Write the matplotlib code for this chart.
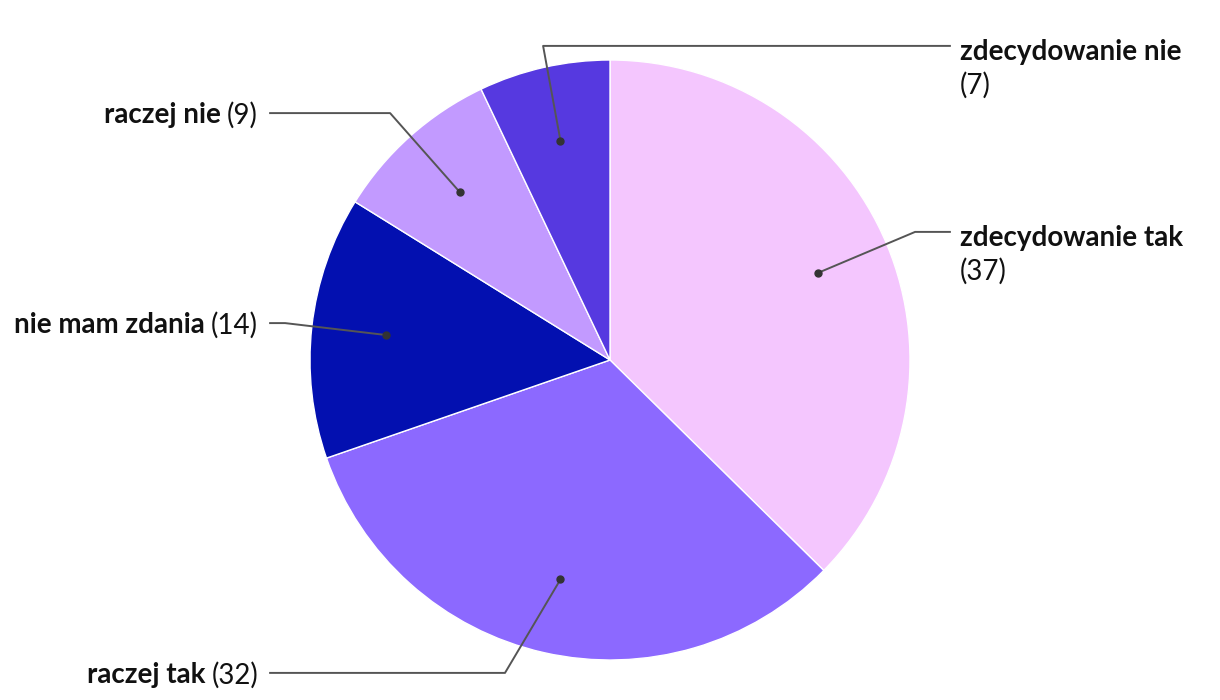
import matplotlib
matplotlib.use("Agg")
import matplotlib.pyplot as plt
import numpy as np

plt.rcParams["font.family"] = ["Lato", "DejaVu Sans"]

labels = ["zdecydowanie tak", "raczej tak", "nie mam zdania", "raczej nie", "zdecydowanie nie"]
values = [37, 32, 14, 9, 7]
colors = ["#f4c6fe", "#8c69ff", "#0310b0", "#c29aff", "#5639e0"]

# leader line layout (data coords, pie radius = 1): elbow, side
elbows = [(1.017, 0.427), (-0.35, -1.043), (-1.083, 0.123), (-0.733, 0.823), (-0.223, 1.047)]
sides = ["right", "left", "left", "left", "right"]

fig = plt.figure(figsize=(12.2, 7), dpi=100)
ax = fig.add_axes([0, 0, 1, 1])

wedges, _ = ax.pie(values, colors=colors, startangle=90, counterclock=False, radius=1,
                   wedgeprops=dict(edgecolor="white", linewidth=1))
ax.set_xlim(-610 / 300, 610 / 300)
ax.set_ylim(-340 / 300, 360 / 300)
ax.set_aspect("equal")
ax.axis("off")

fs = 20
total = sum(values)
cum = 0
for i, (lab, v) in enumerate(zip(labels, values)):
    mid = (cum + v / 2) / total * 2 * np.pi
    cum += v
    px, py = 0.75 * np.sin(mid), 0.75 * np.cos(mid)
    ex, ey = elbows[i]
    endx = 1.133 if sides[i] == "right" else -1.133
    ax.plot([px, ex, endx], [py, ey, ey], color="#555555", lw=1.4, zorder=3)
    ax.plot(px, py, "o", color="#333333", ms=5, zorder=4)
    if sides[i] == "right":
        tx = endx + 0.034
        ax.text(tx, ey - 0.02, lab, ha="left", va="center", fontsize=fs,
                fontweight="bold", color="#111111")
        ax.text(tx, ey - 0.13, "(%d)" % v, ha="left", va="center", fontsize=fs,
                color="#111111")
    else:
        tx = endx - 0.04
        cnt = ax.text(tx, ey - 0.007, "(%d)" % v, ha="right", va="center", fontsize=fs,
                      color="#111111")
        ax.annotate(lab, xy=(0, 0.5), xycoords=cnt, xytext=(-4.5, 0),
                    textcoords="offset points", ha="right", va="center",
                    fontsize=fs, fontweight="bold", color="#111111")

fig.savefig("out.png", dpi=100)
